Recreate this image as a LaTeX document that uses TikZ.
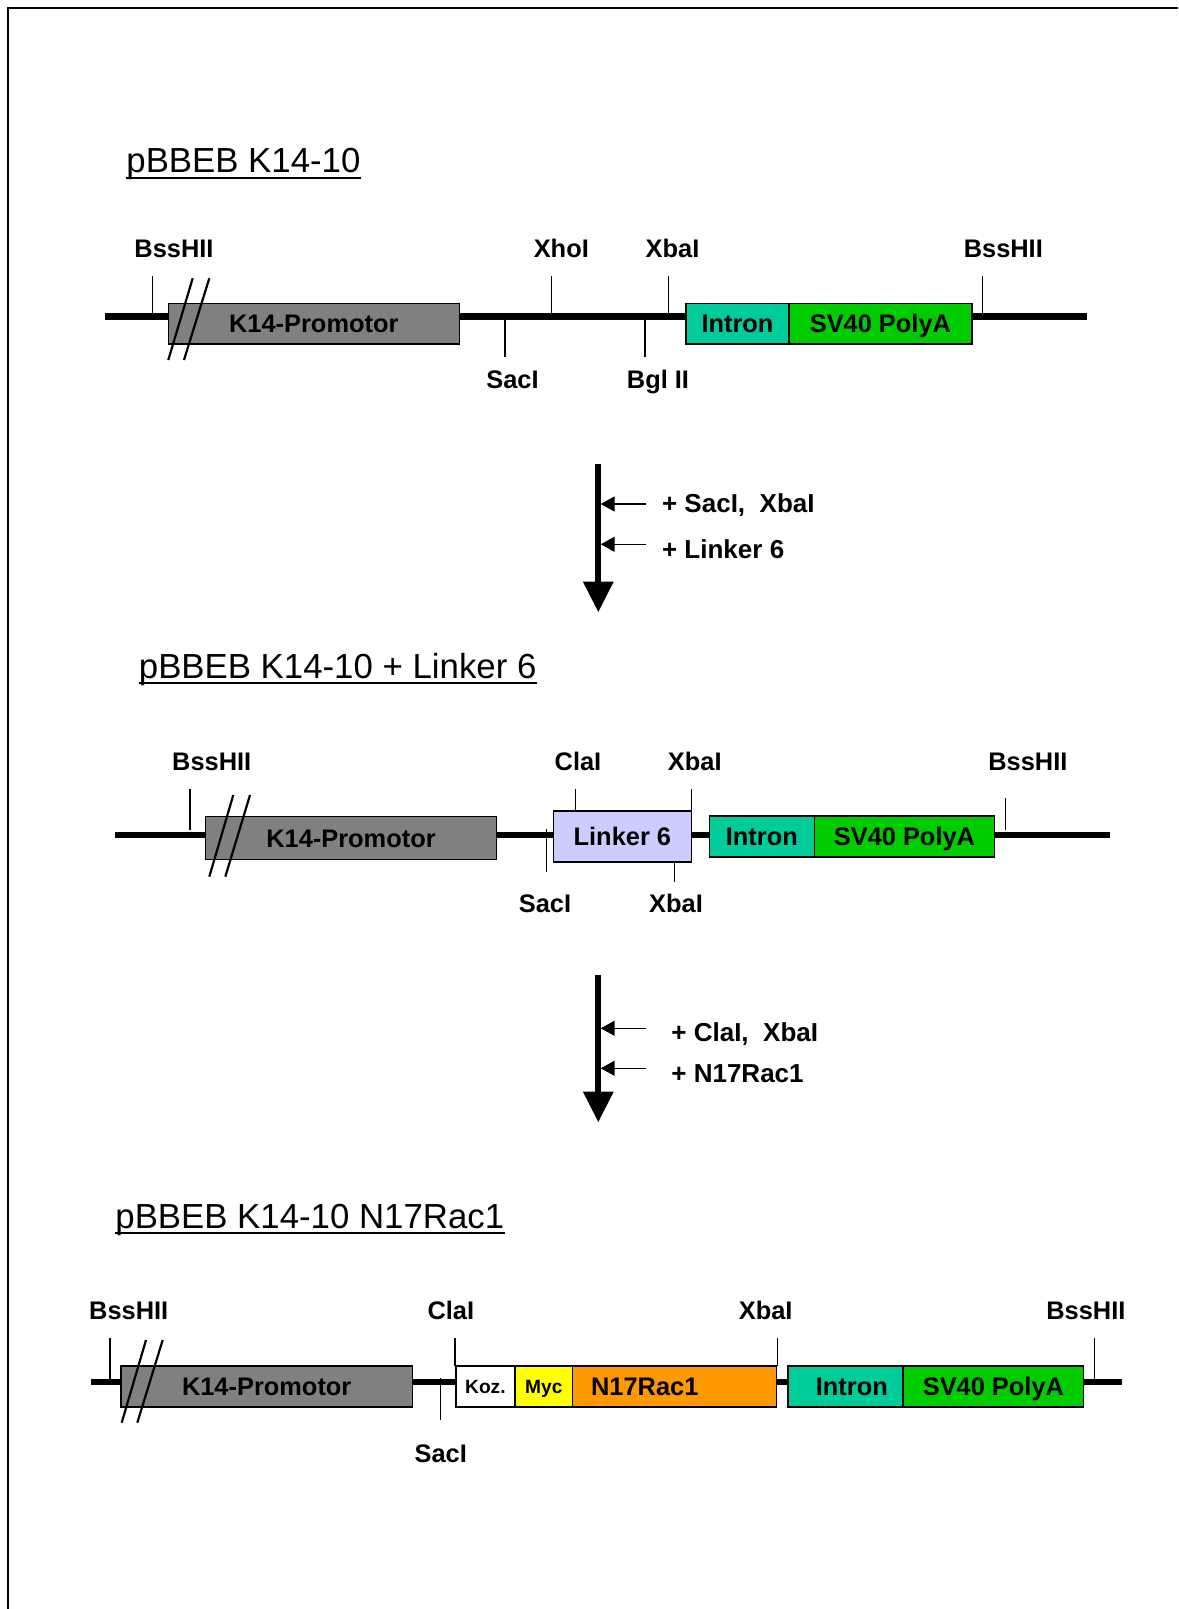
\documentclass[tikz,border=0pt]{standalone}
\usepackage{fontspec}
\setmainfont{Liberation Sans}
\usetikzlibrary{arrows.meta}
\definecolor{promgray}{HTML}{808080}
\definecolor{introncol}{HTML}{00CC99}
\definecolor{polyacol}{HTML}{00CC00}
\definecolor{linkercol}{HTML}{CCCCFF}
\definecolor{myccol}{HTML}{FFFF00}
\definecolor{raccol}{HTML}{FF9900}
\newcommand{\labfont}{\fontsize{12.7}{15}\selectfont\bfseries}
\newcommand{\arrfont}{\fontsize{13}{15}\selectfont\bfseries}
\newcommand{\smallfont}{\fontsize{9.6}{11}\selectfont\bfseries}
\newcommand{\titfont}{\fontsize{17.4}{20}\selectfont}
\begin{document}
\begin{tikzpicture}[x=0.5pt,y=-0.5pt,
  bb/.style={line width=3.3pt},
  cut/.style={line width=0.75pt},
  slash/.style={line width=1.1pt},
  frameline/.style={line width=1pt},
  ulin/.style={line width=0.8pt},
  lab/.style={inner sep=0pt, font=\labfont, text height=9.1pt, text depth=0pt},
  arrlab/.style={inner sep=0pt, font=\arrfont, text height=9.3pt, text depth=0pt, anchor=west},
  tit/.style={inner sep=0pt, font=\titfont, anchor=base west},
  box/.style={draw, line width=0.75pt, inner sep=0pt, font=\labfont, text height=9.1pt, text depth=0pt, minimum height=20.35pt},
  smallbox/.style={box, font=\smallfont, text height=6.9pt},
  bigarrow/.style={line width=3pt, -{Triangle[length=15.3pt,width=14.5pt]}},
  smallarrow/.style={line width=0.75pt, -{Triangle[length=7pt,width=7.5pt]}}
]
\useasboundingbox (0,0) rectangle (1178,1609);
% frame
\draw[frameline] (7.5,1609) -- (7.5,8.3) -- (1178,8.3);

% ================= Section 1 =================
\node[tit] (t1) at (126,173) {pBBEB K14-10};
\draw[ulin] ([yshift=-2.6pt]t1.base west) -- ([yshift=-2.6pt]t1.base east);

\coordinate (b1l) at (105,316.7);
\coordinate (b1r) at (1087,316.7);
\draw[bb] (b1l) -- (b1r);
\node[box, fill=promgray, minimum width=145.5pt] (k1) at (313.8,323.7) {K14-Promotor};
\node[box, fill=introncol, minimum width=51.5pt] (i1) at (737.5,323.7) {Intron};
\node[box, fill=polyacol, minimum width=91.35pt] (p1) at (880.4,323.7) {SV40 PolyA};
\draw[slash] (192.7,278.3) -- (168.3,360);
\draw[slash] (209.3,278.3) -- (184,360);

\node[lab] (l1a) at (174,248) {BssHII};
\node[lab] (l1b) at (561.3,248) {XhoI};
\node[lab] (l1c) at (672.5,248) {XbaI};
\node[lab] (l1d) at (1003.3,248) {BssHII};
\node[lab] (l1e) at (512.5,379) {SacI};
\node[lab] (l1f) at (658,379) {Bgl II};
\draw[cut] (152.7,276) -- (152.7,313);
\draw[cut] (551.7,276) -- (551.7,313);
\draw[cut] (668.3,276) -- (668.3,313);
\draw[cut] (982.7,276) -- (982.7,313);
\draw[cut] (505,320) -- (505,356.7);
\draw[cut] (645,320) -- (645,357);

% arrow 1
\coordinate (a1s) at (598.3,464);
\coordinate (a1e) at (598.3,612.3);
\draw[bigarrow] (a1s) -- (a1e);
\coordinate (s1a) at (646,504);
\coordinate (s1at) at (600.7,504);
\coordinate (s1b) at (646,544.3);
\coordinate (s1bt) at (600.7,544.3);
\draw[smallarrow] (s1a) -- (s1at);
\draw[smallarrow] (s1b) -- (s1bt);
\node[arrlab] (r1a) at (661.7,503) {+ SacI,\ \ XbaI};
\node[arrlab] (r1b) at (661.7,549) {+ Linker 6};

% ================= Section 2 =================
\node[tit] (t2) at (138.5,678) {pBBEB K14-10 + Linker 6};
\draw[ulin] ([yshift=-2.6pt]t2.base west) -- ([yshift=-2.6pt]t2.base east);

\coordinate (b2l) at (115,835);
\coordinate (b2r) at (1110,835);
\draw[bb] (b2l) -- (b2r);
\node[box, fill=promgray, minimum width=145.7pt, minimum height=21.3pt] (k2) at (351,838) {K14-Promotor};
\draw[cut] (546.7,829.3) -- (546.7,871.7);
\node[box, fill=linkercol, minimum width=69.05pt, minimum height=25.35pt] (lk2) at (622.35,836.4) {Linker 6};
\node[box, fill=introncol, minimum width=52.5pt] (i2) at (761.8,836.4) {Intron};
\node[box, fill=polyacol, minimum width=90.15pt] (p2) at (904.45,836.4) {SV40 PolyA};
\draw[slash] (233.3,795) -- (209.3,876.7);
\draw[slash] (250,795) -- (225.3,876.7);

\node[lab] (l2a) at (211.7,761.7) {BssHII};
\node[lab] (l2b) at (578,761.7) {ClaI};
\node[lab] (l2c) at (694.8,761.7) {XbaI};
\node[lab] (l2d) at (1027.9,761.7) {BssHII};
\node[lab] (l2e) at (545,903) {SacI};
\node[lab] (l2f) at (676,903) {XbaI};
\draw[cut] (190,789.3) -- (190,830);
\draw[cut] (575.7,789.3) -- (575.7,811);
\draw[cut] (691.4,789.3) -- (691.4,811);
\draw[cut] (1005.7,798) -- (1005.7,830);
\draw[cut] (674.3,861.7) -- (674.3,881.7);

% arrow 2
\coordinate (a2s) at (598.3,975);
\coordinate (a2e) at (598.3,1122.3);
\draw[bigarrow] (a2s) -- (a2e);
\coordinate (s2a) at (646,1028.3);
\coordinate (s2at) at (600.7,1028.3);
\coordinate (s2b) at (646,1068.3);
\coordinate (s2bt) at (600.7,1068.3);
\draw[smallarrow] (s2a) -- (s2at);
\draw[smallarrow] (s2b) -- (s2bt);
\node[arrlab] (r2a) at (671,1032) {+ ClaI,\ \ XbaI};
\node[arrlab] (r2b) at (671,1073) {+ N17Rac1};

% ================= Section 3 =================
\node[tit] (t3) at (115,1228) {pBBEB K14-10 N17Rac1};
\draw[ulin] ([yshift=-2.6pt]t3.base west) -- ([yshift=-2.6pt]t3.base east);

\coordinate (b3l) at (90.7,1382);
\coordinate (b3r) at (1122,1382);
\draw[bb] (b3l) -- (b3r);
\draw[cut] (440.7,1378.3) -- (440.7,1420);
\node[box, fill=promgray, minimum width=145.65pt] (k3) at (266.7,1386.4) {K14-Promotor};
\node[smallbox, fill=white, minimum width=29.65pt] (kz3) at (485.4,1386.4) {Koz.};
\node[smallbox, fill=myccol, minimum width=28.85pt] (my3) at (543.9,1386.4) {Myc};
\node[box, fill=raccol, minimum width=101.85pt] (n3) at (674.55,1386.4) {};
\node[lab, anchor=west] (n3t) at (590.7,1386.4) {N17Rac1};
\node[box, fill=introncol, minimum width=57.5pt] (i3) at (845.7,1386.4) {};
\node[lab] (i3t) at (851.8,1386.4) {Intron};
\node[box, fill=polyacol, minimum width=90.2pt] (p3) at (993.4,1386.4) {SV40 PolyA};
\draw[slash] (146,1340) -- (121.7,1422.7);
\draw[slash] (162.7,1340) -- (137.3,1422.7);

\node[lab] (l3a) at (128.7,1310) {BssHII};
\node[lab] (l3b) at (450.8,1310) {ClaI};
\node[lab] (l3c) at (765.7,1310) {XbaI};
\node[lab] (l3d) at (1085.9,1310) {BssHII};
\node[lab] (l3e) at (440.8,1453) {SacI};
\draw[cut] (110,1338.3) -- (110,1380);
\draw[cut] (455,1338.3) -- (455,1366);
\draw[cut] (777.5,1338.3) -- (777.5,1366);
\draw[cut] (1094.3,1338.3) -- (1094.3,1380);
\end{tikzpicture}
\end{document}
